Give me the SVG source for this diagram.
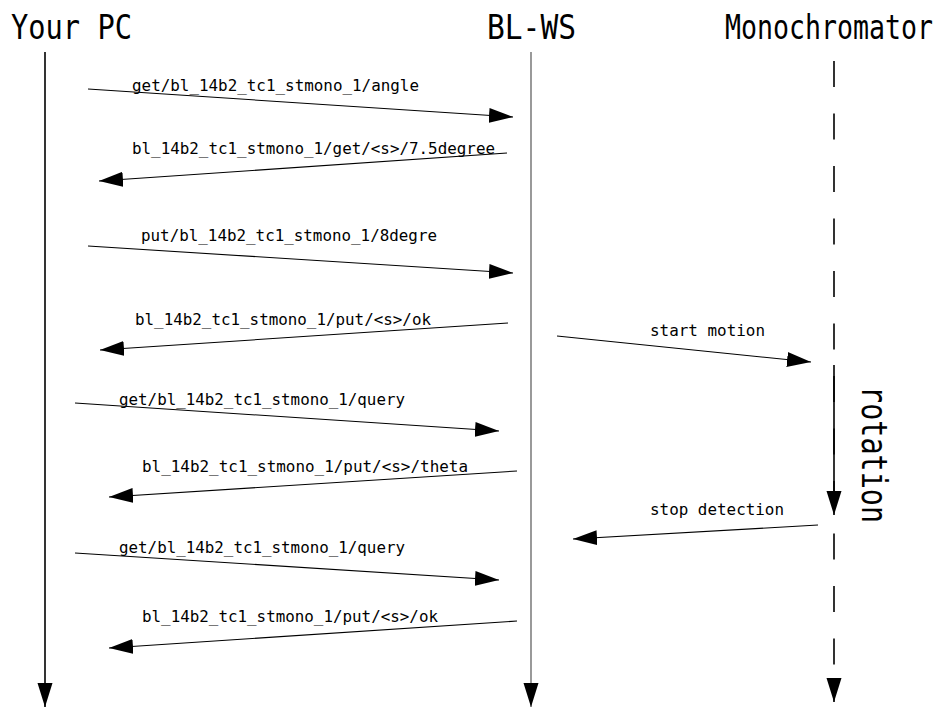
<svg xmlns="http://www.w3.org/2000/svg" width="945" height="708" viewBox="0 0 945 708">
<style>
.title{font-family:"DejaVu Sans Mono","Liberation Mono",monospace;font-size:27px;fill:#000}
.rot{font-family:"DejaVu Sans Mono","Liberation Mono",monospace;font-size:36px;fill:#000}
.lbl{font-family:"DejaVu Sans Mono","Liberation Mono",monospace;font-size:16.5px;fill:#000}
.msg{stroke:#000;stroke-width:1.1;fill:none;marker-end:url(#ah)}
.life{stroke-width:1.6;fill:none;marker-end:url(#ah)}
</style>
<defs>
<marker id="ah" markerUnits="userSpaceOnUse" markerWidth="24" markerHeight="16" refX="24" refY="8" orient="auto">
<path d="M0,0.5 L24,8 L0,15.5 z" fill="#000"/>
</marker>
</defs>
<rect width="945" height="708" fill="#fff"/>
<g id="yourpc">
<text class="title" transform="translate(11,39) scale(1,1.25)" textLength="121" lengthAdjust="spacingAndGlyphs">Your PC</text>
<line class="life" x1="45" y1="52" x2="45" y2="707" stroke="#000"/>
</g>
<g id="blws">
<text class="title" transform="translate(487,39) scale(1,1.25)" textLength="89" lengthAdjust="spacingAndGlyphs">BL-WS</text>
<line class="life" x1="531" y1="52" x2="531" y2="707" stroke="#808080" stroke-width="2"/>
</g>
<g id="mono">
<text class="title" transform="translate(725,39) scale(1,1.25)" textLength="208" lengthAdjust="spacingAndGlyphs">Monochromator</text>
<line class="life" x1="834" y1="61" x2="834" y2="702" stroke="#000" stroke-dasharray="26 26.5"/>
</g>
<g id="rotation">
<line class="life" x1="834" y1="365" x2="834" y2="515" stroke="#000" stroke-width="1.2"/>
<text class="rot" transform="translate(862,386) rotate(90)" textLength="137" lengthAdjust="spacingAndGlyphs">rotation</text>
</g>
<g id="connectors">
<line class="msg" x1="88" y1="89" x2="513" y2="117"/>
<text class="lbl" x="132" y="91" textLength="287" lengthAdjust="spacingAndGlyphs">get/bl_14b2_tc1_stmono_1/angle</text>
<line class="msg" x1="507" y1="153" x2="99" y2="181"/>
<text class="lbl" x="132" y="154" textLength="363" lengthAdjust="spacingAndGlyphs">bl_14b2_tc1_stmono_1/get/&lt;s&gt;/7.5degree</text>
<line class="msg" x1="88" y1="246" x2="513" y2="273"/>
<text class="lbl" x="141" y="241" textLength="296" lengthAdjust="spacingAndGlyphs">put/bl_14b2_tc1_stmono_1/8degre</text>
<line class="msg" x1="508" y1="323" x2="100" y2="350"/>
<text class="lbl" x="135" y="325" textLength="296" lengthAdjust="spacingAndGlyphs">bl_14b2_tc1_stmono_1/put/&lt;s&gt;/ok</text>
<line class="msg" x1="557" y1="336" x2="811" y2="362"/>
<text class="lbl" x="650" y="336" textLength="115" lengthAdjust="spacingAndGlyphs">start motion</text>
<line class="msg" x1="75" y1="403" x2="499" y2="431"/>
<text class="lbl" x="119" y="405" textLength="286" lengthAdjust="spacingAndGlyphs">get/bl_14b2_tc1_stmono_1/query</text>
<line class="msg" x1="517" y1="471" x2="109" y2="497"/>
<text class="lbl" x="142" y="472" textLength="326" lengthAdjust="spacingAndGlyphs">bl_14b2_tc1_stmono_1/put/&lt;s&gt;/theta</text>
<line class="msg" x1="818" y1="525" x2="573" y2="539"/>
<text class="lbl" x="650" y="515" textLength="134" lengthAdjust="spacingAndGlyphs">stop detection</text>
<line class="msg" x1="75" y1="553" x2="499" y2="580"/>
<text class="lbl" x="119" y="553" textLength="286" lengthAdjust="spacingAndGlyphs">get/bl_14b2_tc1_stmono_1/query</text>
<line class="msg" x1="517" y1="621" x2="109" y2="648"/>
<text class="lbl" x="142" y="622" textLength="296" lengthAdjust="spacingAndGlyphs">bl_14b2_tc1_stmono_1/put/&lt;s&gt;/ok</text>
</g>
</svg>
